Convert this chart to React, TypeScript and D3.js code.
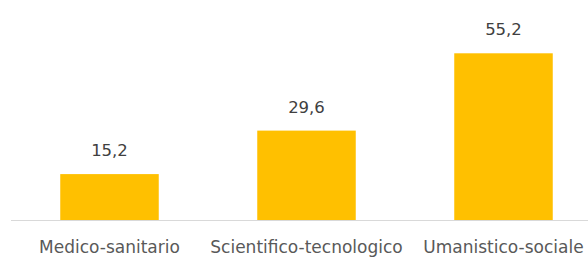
import React from "react";
import * as d3 from "d3";

const categories = ["Medico-sanitario", "Scientifico-tecnologico", "Umanistico-sociale"];
const values = [15.2, 29.6, 55.2];

const W = 588;
const H = 257;

export default function App() {
  const x = d3.scaleBand<string>().domain(categories).range([11, 602]).paddingInner(0.5).paddingOuter(0.25);
  const y = d3.scaleLinear().domain([0, 60]).range([220, 38.8]);
  const fmt = (v: number) => v.toFixed(1).replace(".", ",");
  const font = "'DejaVu Sans', sans-serif";
  return (
    <svg width={W} height={H} style={{ position: "absolute", left: 0, top: 0 }}>
      <rect width={W} height={H} fill="#fff" />
      {categories.map((c, i) => (
        <rect key={c} x={x(c)!} y={y(values[i])} width={x.bandwidth()} height={y(0) - y(values[i])} fill="#FFC000" />
      ))}
      <line x1={11} x2={W} y1={220.5} y2={220.5} stroke="#D9D9D9" strokeWidth={1} />
      {categories.map((c, i) => (
        <text key={"v" + c} x={x(c)! + x.bandwidth() / 2} y={y(values[i]) - 18} textAnchor="middle" fontFamily={font} fontSize={16.5} fill="#404040">
          {fmt(values[i])}
        </text>
      ))}
      {categories.map((c) => (
        <text key={"c" + c} x={x(c)! + x.bandwidth() / 2} y={252.5} textAnchor="middle" fontFamily={font} fontSize={17} fill="#595959">
          {c}
        </text>
      ))}
    </svg>
  );
}
